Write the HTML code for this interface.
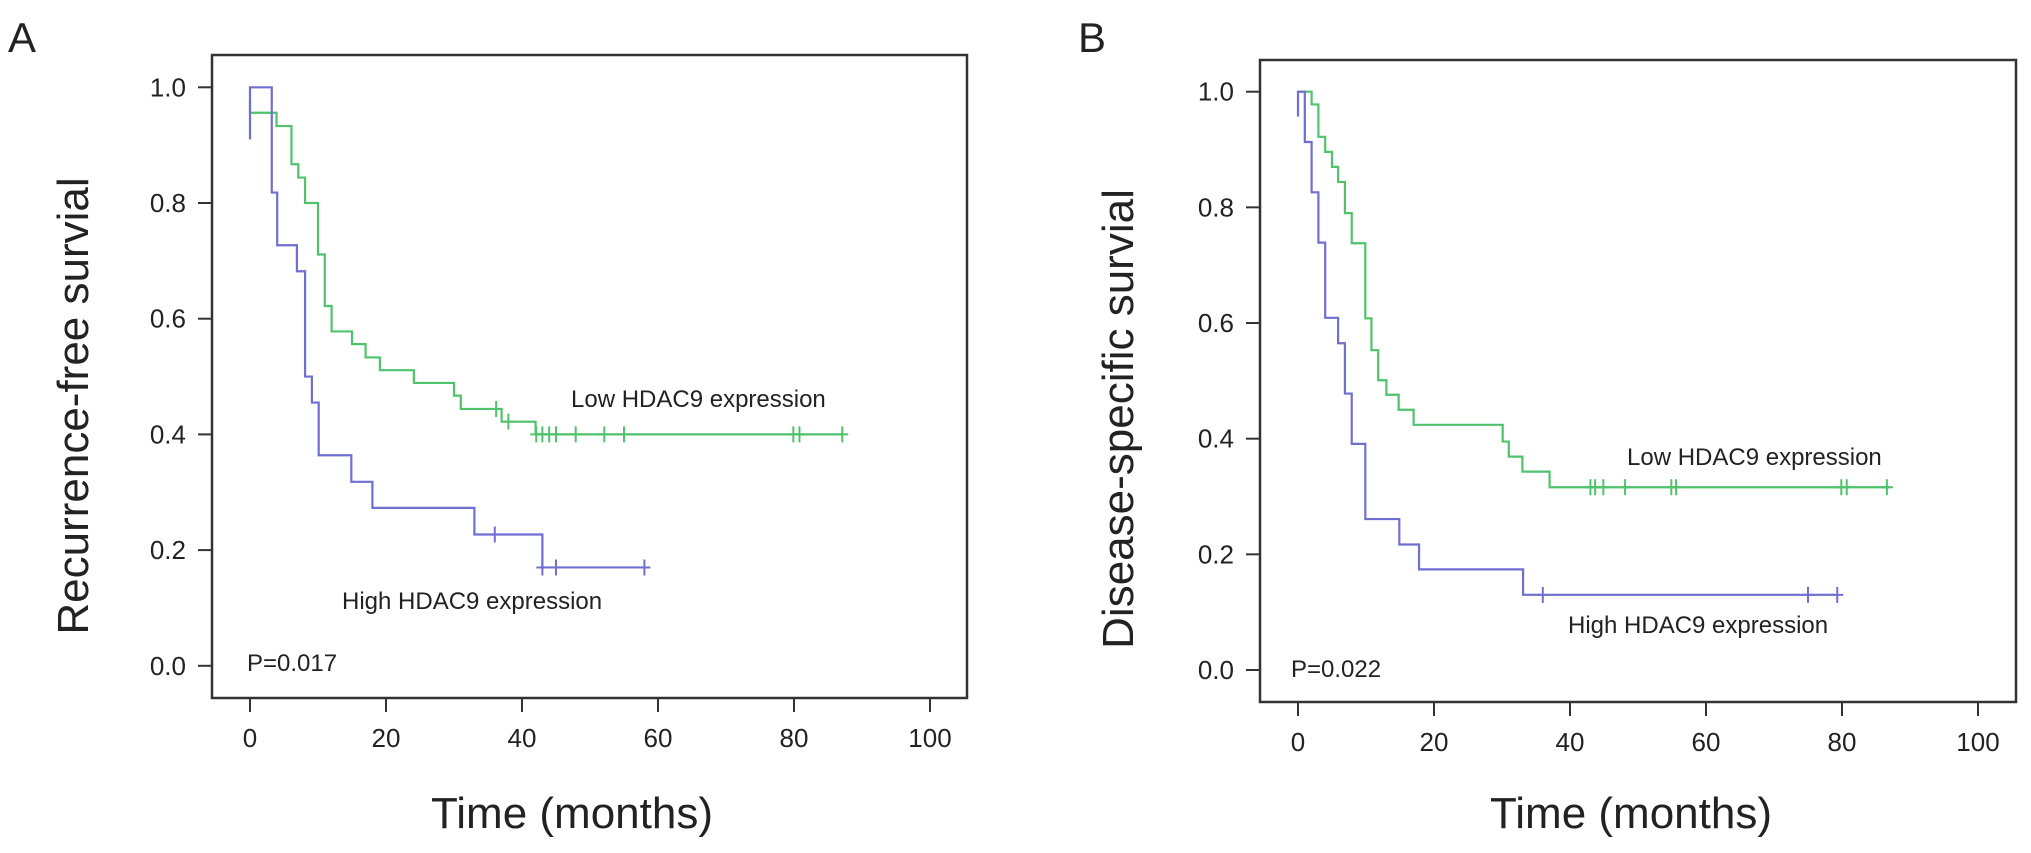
<!DOCTYPE html>
<html><head><meta charset="utf-8"><style>
html,body{margin:0;padding:0;background:#fff}
svg{display:block}
text{font-family:"Liberation Sans",sans-serif;fill:#222}
</style></head><body>
<svg id="fig" width="2031" height="853" viewBox="0 0 2031 853" xmlns="http://www.w3.org/2000/svg">
<text x="8" y="52" font-size="42">A</text>
<text x="1078" y="52" font-size="42">B</text>
</svg>
<script>
// Panel A data: step times (months) and survival values after each step
const aHighTimes = [0, 3.2, 4, 6.9, 8.1, 9.1, 10.1, 14.9, 18, 33, 43, 58];
const aHighVals  = [1.0, 0.818, 0.727, 0.682, 0.5, 0.455, 0.364, 0.318, 0.273, 0.227, 0.17, 0.17];
const aHighStart = 0.91;
const aHighCensor = [36, 43, 45, 58];
const aHighCensorVals = [0.227, 0.17, 0.17, 0.17];
const aLowTimes = [0, 3.9, 6.1, 7.1, 8.1, 10, 11, 12, 15, 17, 19.1, 24.1, 30, 31, 37, 42, 87];
const aLowVals  = [0.956, 0.933, 0.867, 0.844, 0.8, 0.711, 0.622, 0.578, 0.556, 0.533, 0.511, 0.489, 0.467, 0.444, 0.422, 0.4, 0.4];
const aLowStart = 0.978;
const aLowCensor = [36.2, 38, 42.1, 43, 44, 45, 47.9, 52.1, 55, 79.9, 80.8, 87.1];
const aLowCensorVals = [0.444, 0.422, 0.4, 0.4, 0.4, 0.4, 0.4, 0.4, 0.4, 0.4, 0.4, 0.4];
// Panel B data
const bHighTimes = [0, 1, 2, 3, 4, 5.9, 6.9, 7.9, 9.9, 14.9, 17.8, 33.1, 79];
const bHighVals  = [1.0, 0.913, 0.826, 0.739, 0.609, 0.565, 0.478, 0.391, 0.261, 0.217, 0.174, 0.13, 0.13];
const bHighStart = 0.957;
const bHighCensor = [36, 75, 79.3];
const bHighCensorVals = [0.13, 0.13, 0.13];
const bLowTimes = [0, 2, 3, 4, 5, 5.9, 6.9, 7.9, 9.9, 10.8, 11.8, 13, 14.8, 17, 30.1, 31, 33, 37, 87];
const bLowVals  = [1.0, 0.978, 0.922, 0.896, 0.87, 0.844, 0.79, 0.738, 0.608, 0.553, 0.501, 0.476, 0.45, 0.424, 0.395, 0.369, 0.343, 0.316, 0.316];
const bLowStart = 1.0;
const bLowCensor = [43, 43.7, 44.9, 48.1, 54.9, 55.6, 79.9, 80.7, 86.6];
const bLowCensorVals = [0.316, 0.316, 0.316, 0.316, 0.316, 0.316, 0.316, 0.316, 0.316];
const xTicks = [0, 20, 40, 60, 80, 100];
const yTicks = [0, 0.2, 0.4, 0.6, 0.8, 1.0];
const yTickLabels = ["0.0", "0.2", "0.4", "0.6", "0.8", "1.0"];

const NS = "http://www.w3.org/2000/svg";
const svg = document.getElementById('fig');
function mk(tag, attrs, parent) {
  const e = document.createElementNS(NS, tag);
  for (const k in attrs) e.setAttribute(k, attrs[k]);
  (parent || svg).appendChild(e);
  return e;
}
const GREEN = "#4fc36b", BLUE = "#6f6fd2";

function panel(cfg) {
  const g = mk('g', {});
  
  
  const xS = t => cfg.x0 + t * (cfg.x100 - cfg.x0) / 100;
  const yS = v => cfg.yZero - v * (cfg.yZero - cfg.yOne);
  const frame = mk('rect', {x: cfg.fl, y: cfg.ft, width: cfg.fr - cfg.fl, height: cfg.fb - cfg.ft, fill: 'none', stroke: '#333', 'stroke-width': 2.5}, g);
  
  
  xTicks.forEach(t => {
    const l = mk('line', {x1: xS(t), x2: xS(t), y1: cfg.fb, y2: cfg.fb + 14, stroke: '#333', 'stroke-width': 2}, g);
    
    
    const tx = mk('text', {x: xS(t), y: cfg.fb + 49, 'font-size': 26, 'text-anchor': 'middle'}, g);
    tx.textContent = t;
    
    
  });
  yTicks.forEach((v, i) => {
    const l = mk('line', {x1: cfg.fl - 14, x2: cfg.fl, y1: yS(v), y2: yS(v), stroke: '#333', 'stroke-width': 2}, g);
    
    
    const tx = mk('text', {x: cfg.fl - 26, y: yS(v) + 9, 'font-size': 26, 'text-anchor': 'end'}, g);
    tx.textContent = yTickLabels[i];
    
    
  });
  function curve(times, vals, start, cens, censV, color, nm) {
    let d = 'M' + xS(times[0]) + ' ' + yS(start) + ' L' + xS(times[0]) + ' ' + yS(vals[0]);
    for (let i = 1; i < times.length; i++) {
      d += ' L' + xS(times[i]) + ' ' + yS(vals[i - 1]) + ' L' + xS(times[i]) + ' ' + yS(vals[i]);
    }
    const p = mk('path', {d: d, fill: 'none', stroke: color, 'stroke-width': 2.2}, g);
    
    
    cens.forEach((t, i) => {
      const c = mk('path', {d: 'M' + xS(t) + ' ' + (yS(censV[i]) - 8) + ' v16 M' + (xS(t) - 6) + ' ' + yS(censV[i]) + ' h12', stroke: color, 'stroke-width': 2}, g);
      
      
    });
  }
  curve(cfg.low[0], cfg.low[1], cfg.low[2], cfg.low[3], cfg.low[4], GREEN, 'low-hdac9');
  curve(cfg.high[0], cfg.high[1], cfg.high[2], cfg.high[3], cfg.high[4], BLUE, 'high-hdac9');
  function txt(s, x, y, size, name, anchor, rot) {
    const a = {x: x, y: y, 'font-size': size};
    if (anchor) a['text-anchor'] = anchor;
    if (rot) a.transform = 'rotate(-90 ' + x + ' ' + y + ')';
    const t = mk('text', a, g);
    t.textContent = s;
    
    
  }
  txt('Low HDAC9 expression', cfg.lowLbl[0], cfg.lowLbl[1], 24, 'low-hdac9-label');
  txt('High HDAC9 expression', cfg.highLbl[0], cfg.highLbl[1], 24, 'high-hdac9-label');
  txt(cfg.p, cfg.pPos[0], cfg.pPos[1], 24, 'p-value-label');
  txt('Time (months)', cfg.xTitle, 828, 44, 'x-axis-title', 'middle');
  txt(cfg.yTitle, cfg.yTitlePos[0], cfg.yTitlePos[1], 44, 'y-axis-title', 'middle', true);
}

panel({name: 'panel-a-chart', x0: 250, x100: 930, yZero: 665.8, yOne: 87.3, fl: 212, fr: 967, ft: 55, fb: 698,
  low: [aLowTimes, aLowVals, aLowStart, aLowCensor, aLowCensorVals],
  high: [aHighTimes, aHighVals, aHighStart, aHighCensor, aHighCensorVals],
  lowLbl: [571, 407], highLbl: [342, 609], p: 'P=0.017', pPos: [247, 671],
  xTitle: 572, yTitle: 'Recurrence-free survial', yTitlePos: [88, 406]});
panel({name: 'panel-b-chart', x0: 1298, x100: 1978, yZero: 670, yOne: 91.7, fl: 1260, fr: 2016, ft: 60, fb: 702,
  low: [bLowTimes, bLowVals, bLowStart, bLowCensor, bLowCensorVals],
  high: [bHighTimes, bHighVals, bHighStart, bHighCensor, bHighCensorVals],
  lowLbl: [1627, 465], highLbl: [1568, 633], p: 'P=0.022', pPos: [1291, 677],
  xTitle: 1631, yTitle: 'Disease-specific survial', yTitlePos: [1133, 419]});
</script>
</body></html>
